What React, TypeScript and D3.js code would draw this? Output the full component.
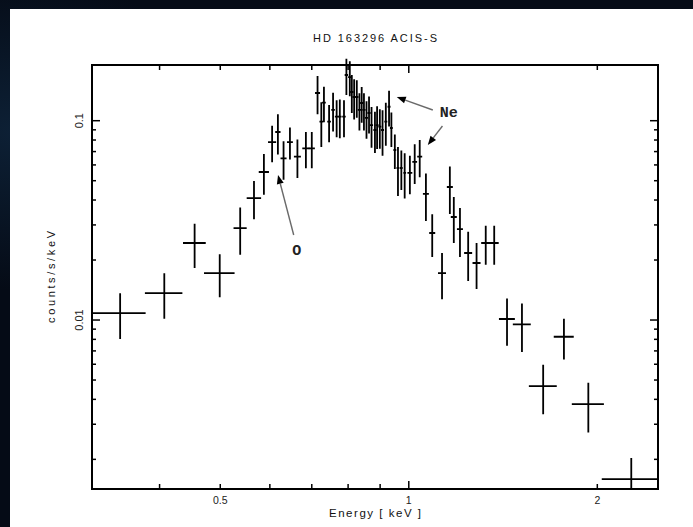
import React from "react";
import * as d3 from "d3";

// ---- data ----
const energy = [0.346, 0.407, 0.455, 0.499, 0.538, 0.566, 0.587, 0.605, 0.618, 0.631,
  0.646, 0.664, 0.685, 0.700, 0.715, 0.725, 0.732, 0.746, 0.757, 0.767,
  0.776, 0.788, 0.795, 0.805, 0.811, 0.818, 0.826, 0.834, 0.841, 0.848,
  0.856, 0.864, 0.872, 0.883, 0.890, 0.899, 0.908, 0.919, 0.930, 0.938,
  0.950, 0.961, 0.973, 0.985, 1.004, 1.022, 1.041, 1.065, 1.090, 1.130,
  1.163, 1.180, 1.207, 1.244, 1.283, 1.327, 1.369, 1.435, 1.516, 1.639,
  1.769, 1.935, 2.266];
const energyHalfWidth = [0.034, 0.028, 0.019, 0.028, 0.013, 0.015, 0.011, 0.009, 0.006, 0.007,
  0.007, 0.0085, 0.009, 0.008, 0.0066, 0.005, 0.005, 0.005, 0.005, 0.005,
  0.005, 0.005, 0.005, 0.005, 0.005, 0.005, 0.005, 0.005, 0.005, 0.005,
  0.005, 0.005, 0.005, 0.005, 0.005, 0.005, 0.005, 0.005, 0.005, 0.005,
  0.005, 0.005, 0.005, 0.005, 0.009, 0.009, 0.0095, 0.0117, 0.012, 0.0166,
  0.0128, 0.013, 0.0133, 0.0183, 0.0189, 0.022, 0.0227, 0.042, 0.050, 0.084,
  0.065, 0.114, 0.233];
const rate = [0.01084, 0.01366, 0.02434, 0.01721, 0.02894, 0.04093, 0.0553, 0.07815, 0.08775, 0.06477,
  0.07815, 0.06599, 0.07271, 0.0727, 0.1377, 0.0989, 0.1231, 0.0989, 0.1132, 0.1047,
  0.1047, 0.1047, 0.1695, 0.1656, 0.1393, 0.1315, 0.1315, 0.1132, 0.1227, 0.1132,
  0.1032, 0.1093, 0.0951, 0.0898, 0.0951, 0.0933, 0.0898, 0.0989, 0.1175, 0.0919,
  0.0713, 0.0579, 0.0579, 0.0547, 0.0547, 0.0621, 0.066, 0.0429, 0.02732, 0.01721,
  0.0465, 0.03287, 0.02861, 0.02169, 0.01932, 0.02434, 0.02434, 0.01012, 0.00951, 0.004664,
  0.008243, 0.003789, 0.001593];
const rateErr = [0.0028, 0.0035, 0.0061, 0.0042, 0.0077, 0.0089, 0.0128, 0.0162, 0.020, 0.0142,
  0.0143, 0.0144, 0.015, 0.015, 0.030, 0.025, 0.025, 0.021, 0.025, 0.022,
  0.023, 0.022, 0.035, 0.033, 0.030, 0.030, 0.028, 0.024, 0.025, 0.024,
  0.022, 0.023, 0.022, 0.021, 0.023, 0.021, 0.023, 0.024, 0.024, 0.018,
  0.014, 0.016, 0.013, 0.014, 0.012, 0.014, 0.014, 0.0115, 0.0066, 0.0045,
  0.0125, 0.0085, 0.0079, 0.006, 0.005, 0.0054, 0.0054, 0.0027, 0.0026, 0.0013,
  0.0019, 0.00106, 0.00044];

const xTickLabels = ["0.5", "1", "2"];
const yTickLabels = ["0.1", "0.01"];
const titleText = "HD 163296 ACIS-S";
const xAxisTitle = "Energy [ keV ]";
const yAxisTitle = "counts/s/keV";

// annotations: label, text anchor point and arrows (tail -> head) in data coords
const annoLabels = ["O", "Ne"];
const annoTextPos = [[0.6625, 0.0212], [1.1207, 0.1044]];
const annoArrows = [
  [[0.655, 0.02669], [0.6183, 0.0534]],
  [[1.0923, 0.1132], [0.9568, 0.1315]],
  [[1.1318, 0.0941], [1.0724, 0.0755]],
];

const W = 693, H = 527;
const L = 92, R = 658, T = 65, B = 489;

export default function App() {
  const x = d3.scaleLog().domain([0.312, 2.5]).range([L, R]);
  const y = d3.scaleLog().domain([0.00142, 0.1903]).range([B, T]);

  const xt = x.ticks();
  const yt = y.ticks();
  const isPow10 = (v: number) => Math.abs(Math.log10(v) - Math.round(Math.log10(v))) < 1e-6;

  const bars = energy.map((e, i) => {
    const hw = energyHalfWidth[i];
    const r = rate[i];
    const er = rateErr[i];
    const lo = Math.max(r - er, 1e-5);
    return `M${x(e - hw)},${y(r)}H${x(e + hw)}M${x(e)},${y(r + er)}V${y(lo)}`;
  });

  const font = "'Liberation Sans', 'DejaVu Sans', sans-serif";
  const mono = "'Liberation Mono', 'DejaVu Sans Mono', monospace";

  return (
    <svg width={W} height={H} style={{ position: "absolute", left: 0, top: 0 }}
      xmlns="http://www.w3.org/2000/svg">
      <defs>
        <clipPath id="plotclip">
          <rect x={L} y={0} width={R - L} height={B} />
        </clipPath>
        <radialGradient id="bgglow" cx="0.02" cy="0.25" r="0.3">
          <stop offset="0" stopColor="#0d2035" />
          <stop offset="1" stopColor="#050b16" />
        </radialGradient>
      </defs>
      <rect x={0} y={0} width={W} height={H} fill="url(#bgglow)" />
      <rect x={10} y={9} width={W - 10} height={H - 9} fill="#ffffff" />

      {/* title */}
      <text x={(L + R) / 2} y={42} textAnchor="middle" fontFamily={font} fontSize={11}
        fill="#111" textLength={124} lengthAdjust="spacing">{titleText}</text>

      {/* data */}
      <g clipPath="url(#plotclip)" stroke="#000" strokeWidth={1.8} fill="none">
        {bars.map((d, i) => <path key={i} d={d} />)}
      </g>

      {/* frame */}
      <rect x={L} y={T} width={R - L} height={B - T} fill="none" stroke="#000" strokeWidth={2} />

      {/* ticks */}
      <g stroke="#000" strokeWidth={1.5}>
        {xt.map((v, i) => {
          const len = isPow10(v) ? 8 : 5;
          return (
            <g key={i}>
              <line x1={x(v)} x2={x(v)} y1={B} y2={B - len} />
              <line x1={x(v)} x2={x(v)} y1={T} y2={T + len} />
            </g>
          );
        })}
        {yt.map((v, i) => {
          const len = isPow10(v) ? 8 : 4;
          return (
            <g key={i}>
              <line x1={L} x2={L + len} y1={y(v)} y2={y(v)} />
              <line x1={R} x2={R - len} y1={y(v)} y2={y(v)} />
            </g>
          );
        })}
      </g>

      {/* x tick labels */}
      {xTickLabels.map((s) => (
        <text key={s} x={x(+s)} y={504} textAnchor="middle" fontFamily={font} fontSize={10.5} fill="#222">{s}</text>
      ))}
      {/* y tick labels */}
      {yTickLabels.map((s) => (
        <text key={s} transform={`translate(83,${y(+s)}) rotate(-90)`} textAnchor="middle"
          fontFamily={font} fontSize={11} fill="#222">{s}</text>
      ))}

      {/* axis titles */}
      <text x={(L + R) / 2} y={517} textAnchor="middle" fontFamily={font} fontSize={11.5} fill="#111"
        textLength={92} lengthAdjust="spacing">{xAxisTitle}</text>
      <text transform={`translate(55,${(T + B) / 2}) rotate(-90)`} textAnchor="middle" fontFamily={font}
        fontSize={11} fill="#111" textLength={92} lengthAdjust="spacing">{yAxisTitle}</text>

      {/* annotations */}
      {annoArrows.map(([tail, head], i) => {
        const x1 = x(tail[0]), y1 = y(tail[1]);
        const x2 = x(head[0]), y2 = y(head[1]);
        const ang = Math.atan2(y2 - y1, x2 - x1);
        const hl = 9, hwid = 3.5;
        const bx = x2 - hl * Math.cos(ang), by = y2 - hl * Math.sin(ang);
        const px = -Math.sin(ang) * hwid, py = Math.cos(ang) * hwid;
        return (
          <g key={i}>
            <line x1={x1} y1={y1} x2={bx} y2={by} stroke="#6a6a6a" strokeWidth={1.4} />
            <polygon points={`${x2},${y2} ${bx + px},${by + py} ${bx - px},${by - py}`} fill="#000" />
          </g>
        );
      })}
      {annoLabels.map((s, i) => (
        <text key={s} x={x(annoTextPos[i][0])} y={y(annoTextPos[i][1])}
          textAnchor={i === 0 ? "middle" : "start"} fontFamily={mono} fontWeight="bold"
          fontSize={15} fill="#222">{s}</text>
      ))}
    </svg>
  );
}
